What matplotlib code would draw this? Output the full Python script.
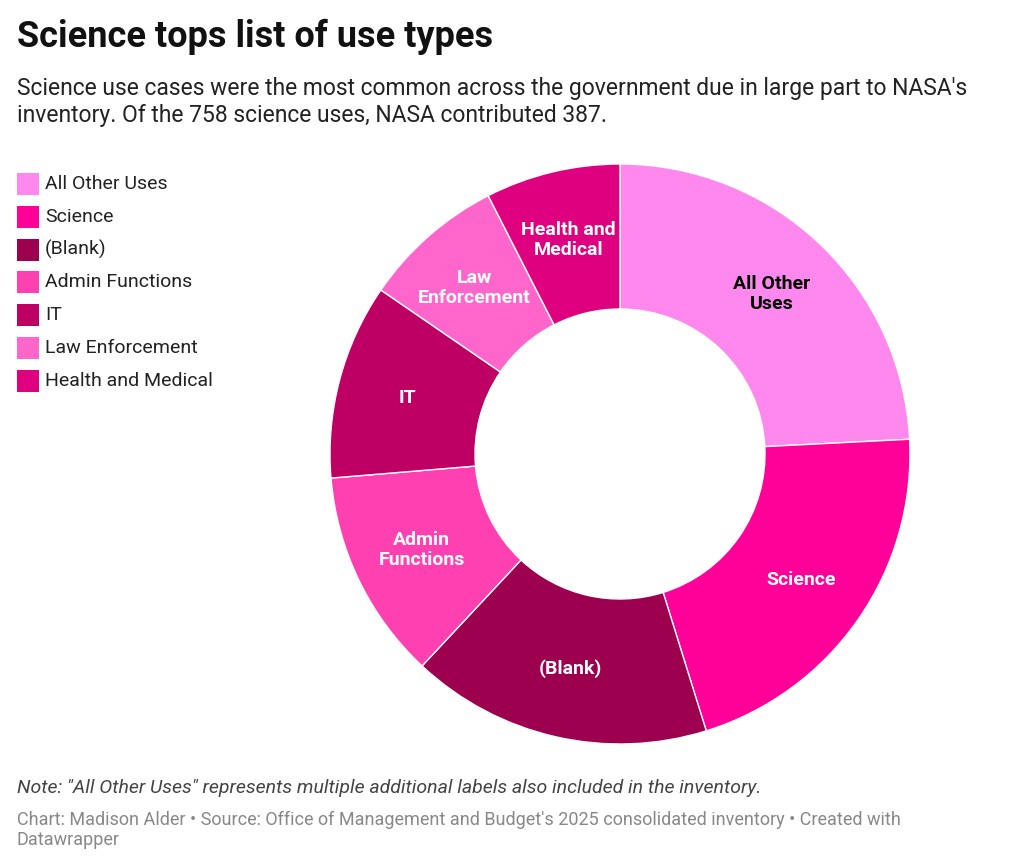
import numpy as np
import matplotlib.pyplot as plt
from matplotlib.patches import Rectangle

plt.rcParams['font.family'] = ['Roboto', 'DejaVu Sans']

# use types, clockwise from 12 o'clock
labels = ['All Other Uses', 'Science', '(Blank)', 'Admin Functions', 'IT',
          'Law Enforcement', 'Health and Medical']
slice_text = ['All Other\nUses', 'Science', '(Blank)', 'Admin\nFunctions', 'IT',
              'Law\nEnforcement', 'Health and\nMedical']
counts = [873, 758, 605, 423, 393, 286, 271]
colors = ['#ff88ee', '#ff0099', '#9e0050', '#ff40b0', '#be0064', '#ff66cc', '#de007f']
text_colors = ['black', 'white', 'white', 'white', 'white', 'white', 'white']

W, H = 1023, 868
fig = plt.figure(figsize=(W / 100, H / 100), dpi=100)

# donut
cx, cy, r = 620, 454, 290
ax = fig.add_axes([(cx - r) / W, (H - cy - r) / H, 2 * r / W, 2 * r / H])
wedges, _ = ax.pie(counts, colors=colors, startangle=90, counterclock=False,
                   radius=1, wedgeprops=dict(width=0.5, edgecolor='white', linewidth=1))
ax.set_xlim(-1, 1)
ax.set_ylim(-1, 1)
ax.set_aspect('equal')
ax.axis('off')

for w, t, tc in zip(wedges, slice_text, text_colors):
    ang = np.deg2rad((w.theta1 + w.theta2) / 2)
    ax.text(0.76 * np.cos(ang), 0.76 * np.sin(ang), t, ha='center', va='center',
            color=tc, fontsize=14, fontweight='bold', linespacing=1.15)

# title / subtitle
fig.text(17 / W, 1 - 37 / H, 'Science tops list of use types', fontsize=26,
         fontweight='bold', va='center', color='#111111')
fig.text(17 / W, 1 - 102 / H,
         "Science use cases were the most common across the government due in large part to NASA's\n"
         "inventory. Of the 758 science uses, NASA contributed 387.",
         fontsize=16.5, va='center', color='#222222', linespacing=1.2)

# legend
for i, (lab, c) in enumerate(zip(labels, colors)):
    y = 184 + i * 32.8
    fig.patches.append(Rectangle((17 / W, 1 - (y + 11) / H), 22 / W, 22 / H,
                                 transform=fig.transFigure, facecolor=c, edgecolor='none'))
    fig.text(45 / W, 1 - y / H, lab, fontsize=14, va='center', color='#222222')

# notes
fig.text(17 / W, 1 - 788 / H,
         'Note: "All Other Uses" represents multiple additional labels also included in the inventory.',
         fontsize=14, style='italic', va='center', color='#444444')
fig.text(17 / W, 1 - 830 / H,
         "Chart: Madison Alder \u2022 Source: Office of Management and Budget's 2025 consolidated inventory \u2022 Created with\n"
         "Datawrapper",
         fontsize=13, va='center', color='#888888', linespacing=1.2)

fig.savefig('out.png', dpi=100)
